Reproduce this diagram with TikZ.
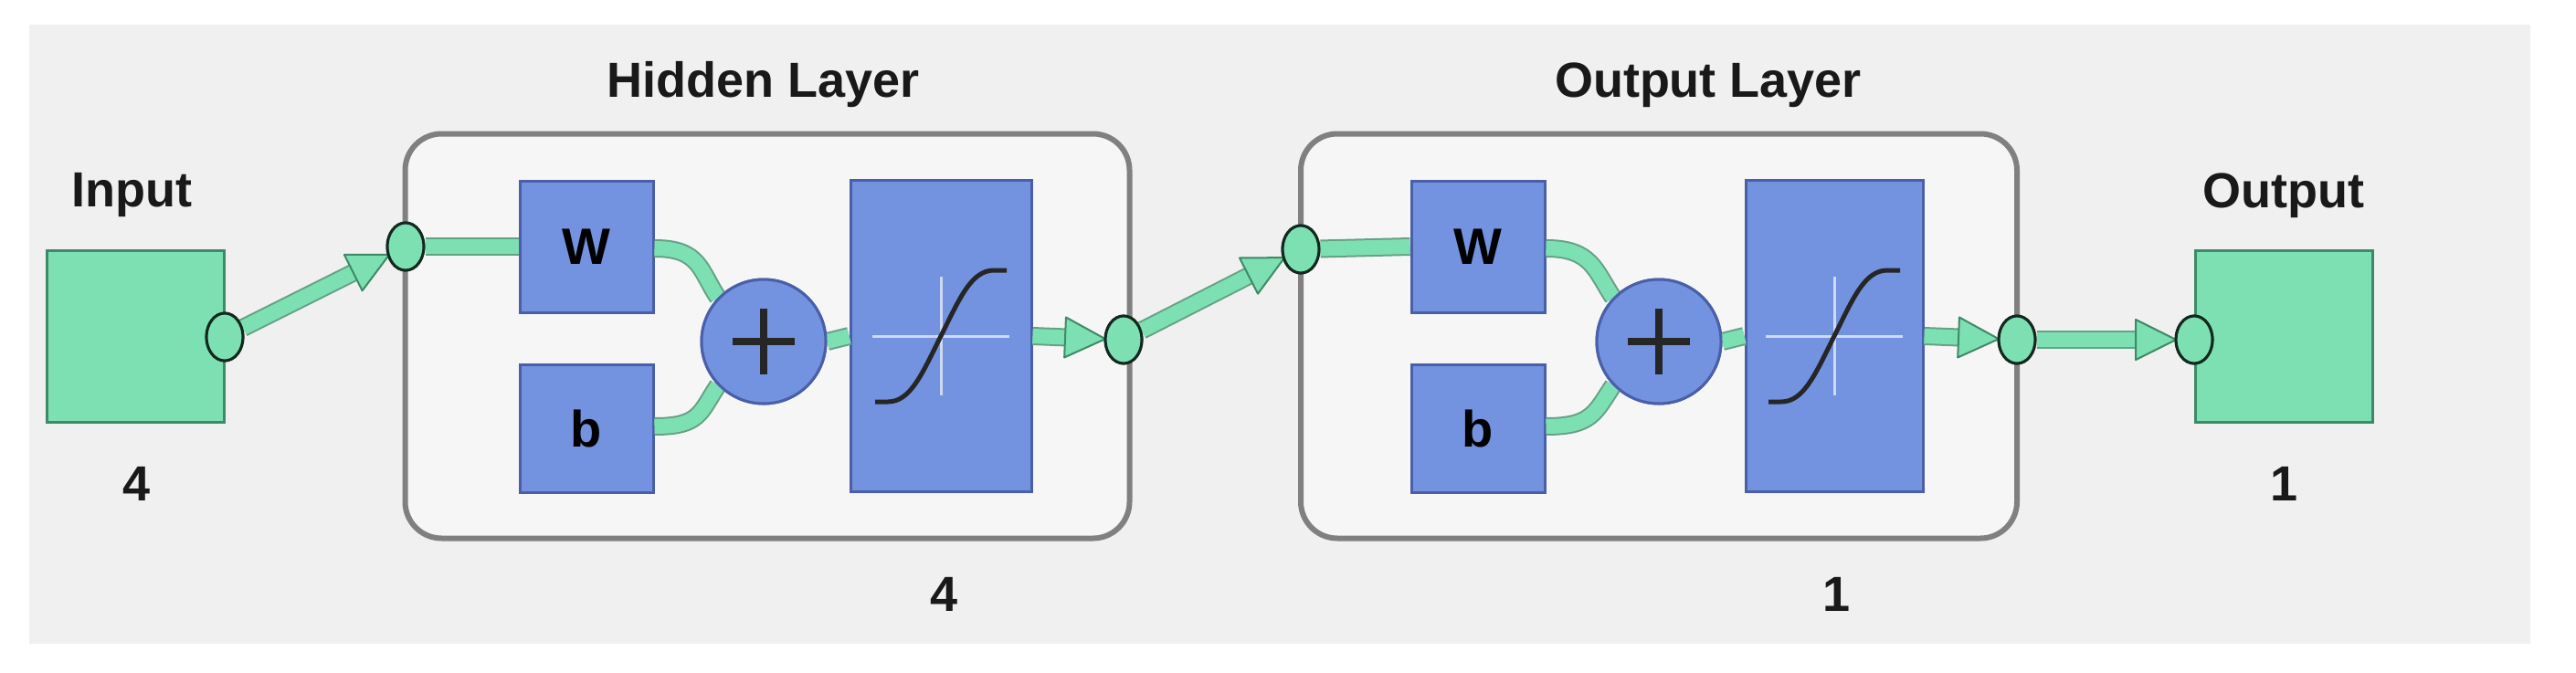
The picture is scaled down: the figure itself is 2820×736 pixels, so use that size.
\documentclass[tikz,border=0pt]{standalone}
\usepackage{fontspec}
\setmainfont{Liberation Sans}
\usetikzlibrary{arrows.meta,calc,shapes.geometric}
\definecolor{lg}{HTML}{7DE0B2}
\definecolor{dg}{HTML}{3E8A66}
\definecolor{bl}{HTML}{7392E0}
\definecolor{db}{HTML}{4A5FA8}
\definecolor{bg}{HTML}{F0F0F0}
\definecolor{lay}{HTML}{F6F6F6}
\tikzset{
 conn/.style={draw=dg!80,line width=2pt,double=lg,double distance=16pt},
 tipf/.style={draw=dg,line width=2pt,fill=lg,line join=round},
 dot/.style={ellipse,draw=black!70!dg,line width=3pt,fill=lg,minimum width=40pt,minimum height=52pt,inner sep=0pt},
 gsq/.style={rectangle,draw=dg,line width=3pt,fill=lg,minimum width=194pt,minimum height=188pt},
 bbox/.style={rectangle,draw=db,line width=3pt,fill=bl,inner sep=0pt,font=\fontsize{56}{60}\selectfont\bfseries},
 layer/.style={rectangle,rounded corners=40pt,draw=gray,line width=6pt,fill=lay},
 lbl/.style={font=\fontsize{54}{60}\selectfont\bfseries,text=black!90}
}
\newcommand\arrowhead[2]{% #1 target dot, #2 source point
 \coordinate (ta) at ($(#1)!20pt!(#2)$);
 \coordinate (tb) at ($(#1)!64pt!(#2)$);
 \draw[tipf] (ta) -- ($(tb)!22pt!90:(ta)$) -- ($(tb)!22pt!-90:(ta)$) -- cycle;
}
\begin{document}
\begin{tikzpicture}[x=1pt,y=-1pt]
\useasboundingbox (0,0) rectangle (2820,736);
\fill[white] (0,0) rectangle (2820,736);
\fill[bg] (32,27) rectangle (2770,705);
% layers
\node[layer,minimum width=793pt,minimum height=443pt] (L1) at (840,368) {};
\node[layer,minimum width=784pt,minimum height=443pt] (L2) at (1816,368) {};
\node[lbl] at (836,93) {Hidden Layer};
\node[lbl] at (1870,93) {Output Layer};
\node[lbl] at (1034,651) {4};
\node[lbl] at (2010,651) {1};
% input/output
\node[gsq] (in) at (148,368) {};
\node[lbl] at (144,214) {Input};
\node[lbl] at (150,530) {4};
\node[gsq] (out) at (2500,368) {};
\node[lbl] at (2500,214) {Output};
\node[lbl] at (2500,530) {1};
% blocks
\node[bbox,minimum width=146pt,minimum height=144pt] (W1) at (642,270) {W};
\node[bbox,minimum width=146pt,minimum height=140pt] (b1) at (642,469) {b};
\node[bbox,circle,minimum size=136pt] (s1) at (836,374) {};
\node[bbox,minimum width=198pt,minimum height=341pt] (t1) at (1030,368) {};
\node[bbox,minimum width=146pt,minimum height=144pt] (W2) at (1618,270) {W};
\node[bbox,minimum width=146pt,minimum height=140pt] (b2) at (1618,469) {b};
\node[bbox,circle,minimum size=136pt] (s2) at (1816,374) {};
\node[bbox,minimum width=194pt,minimum height=341pt] (t2) at (2008,368) {};
% dots
\node[dot] (d0) at (246,369) {};
\node[dot] (d1) at (444,270) {};
\node[dot] (d2) at (1230,372) {};
\node[dot] (d3) at (1424,273) {};
\node[dot] (d4) at (2208,372) {};
\node[dot] (d5) at (2402,372) {};
% connectors
\draw[conn] (d1) -- (W1.west);
\draw[conn] (d3) -- (W2.west);
\foreach \w/\b/\s/\t in {W1/b1/s1/t1,W2/b2/s2/t2}{
 \draw[conn] (\w.east) ++(0,2) .. controls +(50,0) and +(-20,-30) .. ($(\s.center)+(-50,-48)$);
 \draw[conn] (\b.east) ++(0,-2) .. controls +(50,0) and +(-20,30) .. ($(\s.center)+(-50,48)$);
 \draw[conn] (\s.east) -- (\t.west);
}
% redraw sums on top
\node[bbox,circle,minimum size=136pt] at (s1) {};
\node[bbox,circle,minimum size=136pt] at (s2) {};
\foreach \s in {s1,s2}{
 \draw[black!85,line width=8pt] ($(\s)+(-34,0)$) -- ($(\s)+(34,0)$) ($(\s)+(0,-36)$) -- ($(\s)+(0,36)$);
}
% sigmoid
\foreach \t in {t1,t2}{
 \draw[white!65!bl,line width=3pt] ($(\t)+(-75,0)$) -- ($(\t)+(75,0)$) ($(\t)+(0,-65)$) -- ($(\t)+(0,65)$);
 \draw[black!85,line width=5pt] ($(\t)+(-72,72)$) -- ($(\t)+(-58,72)$) .. controls +(25,0) and +(-20,40) .. ($(\t)+(0,0)$) .. controls +(20,-40) and +(-25,0) .. ($(\t)+(58,-72)$) -- ($(\t)+(72,-72)$);
}
% arrows between layers
\draw[conn,shorten >=30pt] (d0) -- (d1);
\arrowhead{d1}{d0}
\draw[conn,shorten >=30pt] (t1.east) -- (d2);
\arrowhead{d2}{t1.east}
\draw[conn,shorten >=30pt] (d2) -- (d3);
\arrowhead{d3}{d2}
\draw[conn,shorten >=30pt] (t2.east) -- (d4);
\arrowhead{d4}{t2.east}
\draw[conn,shorten >=30pt] (d4) -- (d5);
\arrowhead{d5}{d4}
% redraw dots on top
\foreach \d in {d0,d1,d2,d3,d4,d5}{\node[dot] at (\d) {};}
\end{tikzpicture}
\end{document}
